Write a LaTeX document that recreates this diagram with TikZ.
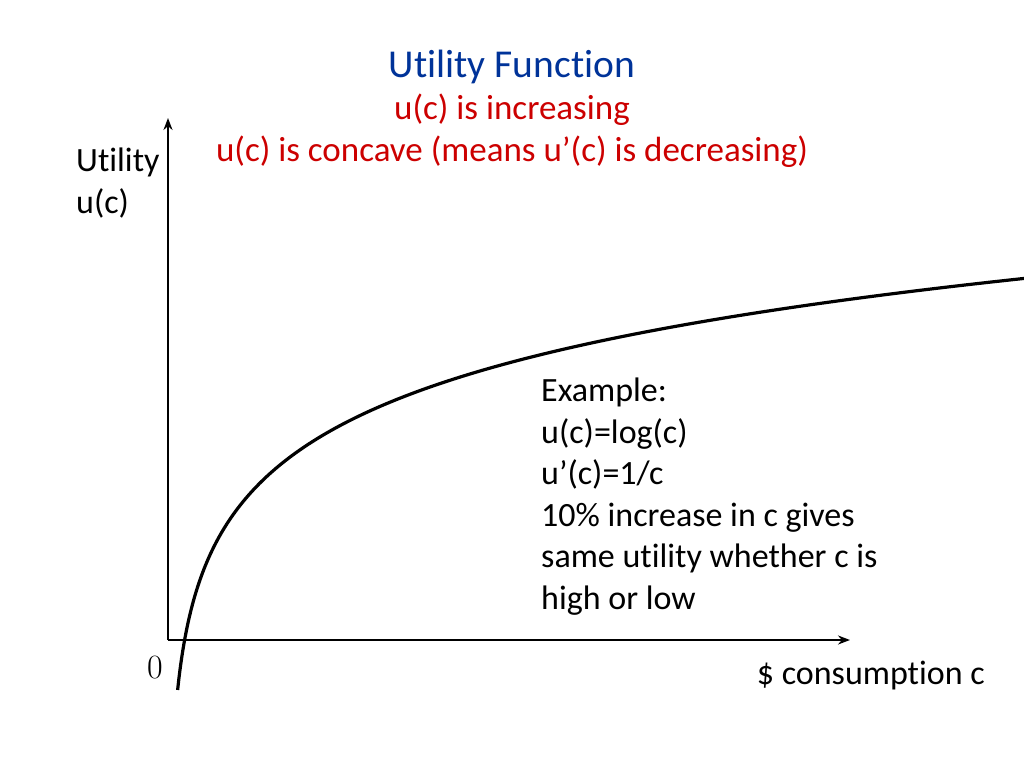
\documentclass[tikz,border=0pt]{standalone}
\usepackage{fontspec}
\setmainfont[Ligatures=NoCommon]{Carlito}
\usetikzlibrary{arrows.meta}
\definecolor{tblue}{RGB}{0,51,153}
\definecolor{tred}{RGB}{204,0,0}
\begin{document}
\begin{tikzpicture}[x=1pt,y=-1pt,
  axis/.style={line width=2.8pt,-{Stealth[length=12pt,width=9pt]}},
  txt/.style={font=\fontsize{34}{41.5}\selectfont,align=left,inner sep=0pt}]
\useasboundingbox (0,0) rectangle (1024,768);
\coordinate (o) at (168,640);
\coordinate (ytop) at (168,118);
\coordinate (xend) at (850,640);
\draw[axis] (o) -- (ytop);
\draw[axis] (o) -- (xend);
\draw[line width=3.2pt,domain=0:1,samples=200,variable=\t]
  plot ({168+16.6*exp(5.4*\t-0.545)}, {640-91.7*(5.4*\t-0.545)});
\node[inner sep=0pt,text=tblue,font=\fontsize{39.5}{46}\selectfont] (title) at (512,67) {Utility Function};
\node[inner sep=0pt,text=tred,font=\fontsize{35}{46}\selectfont] (l1) at (512,110) {u(c) is increasing};
\node[inner sep=0pt,text=tred,font=\fontsize{35}{46}\selectfont] (l2) at (512,152) {u(c) is concave (means u’(c) is decreasing)};
\node[txt,anchor=north west] (ylab) at (76,148) {Utility\\u(c)};
\node[txt,anchor=north west] (ex) at (541,378) {Example:\\u(c)=log(c)\\u’(c)=1/c\\10\% increase in c gives\\same utility whether c is\\high or low};
\node[inner sep=0pt,font=\fontfamily{lmr}\fontsize{34}{36}\selectfont] (zero) at (155,668) {0};
\node[txt,anchor=east] (xlab) at (985,676) {\$ consumption c};
\end{tikzpicture}
\end{document}
